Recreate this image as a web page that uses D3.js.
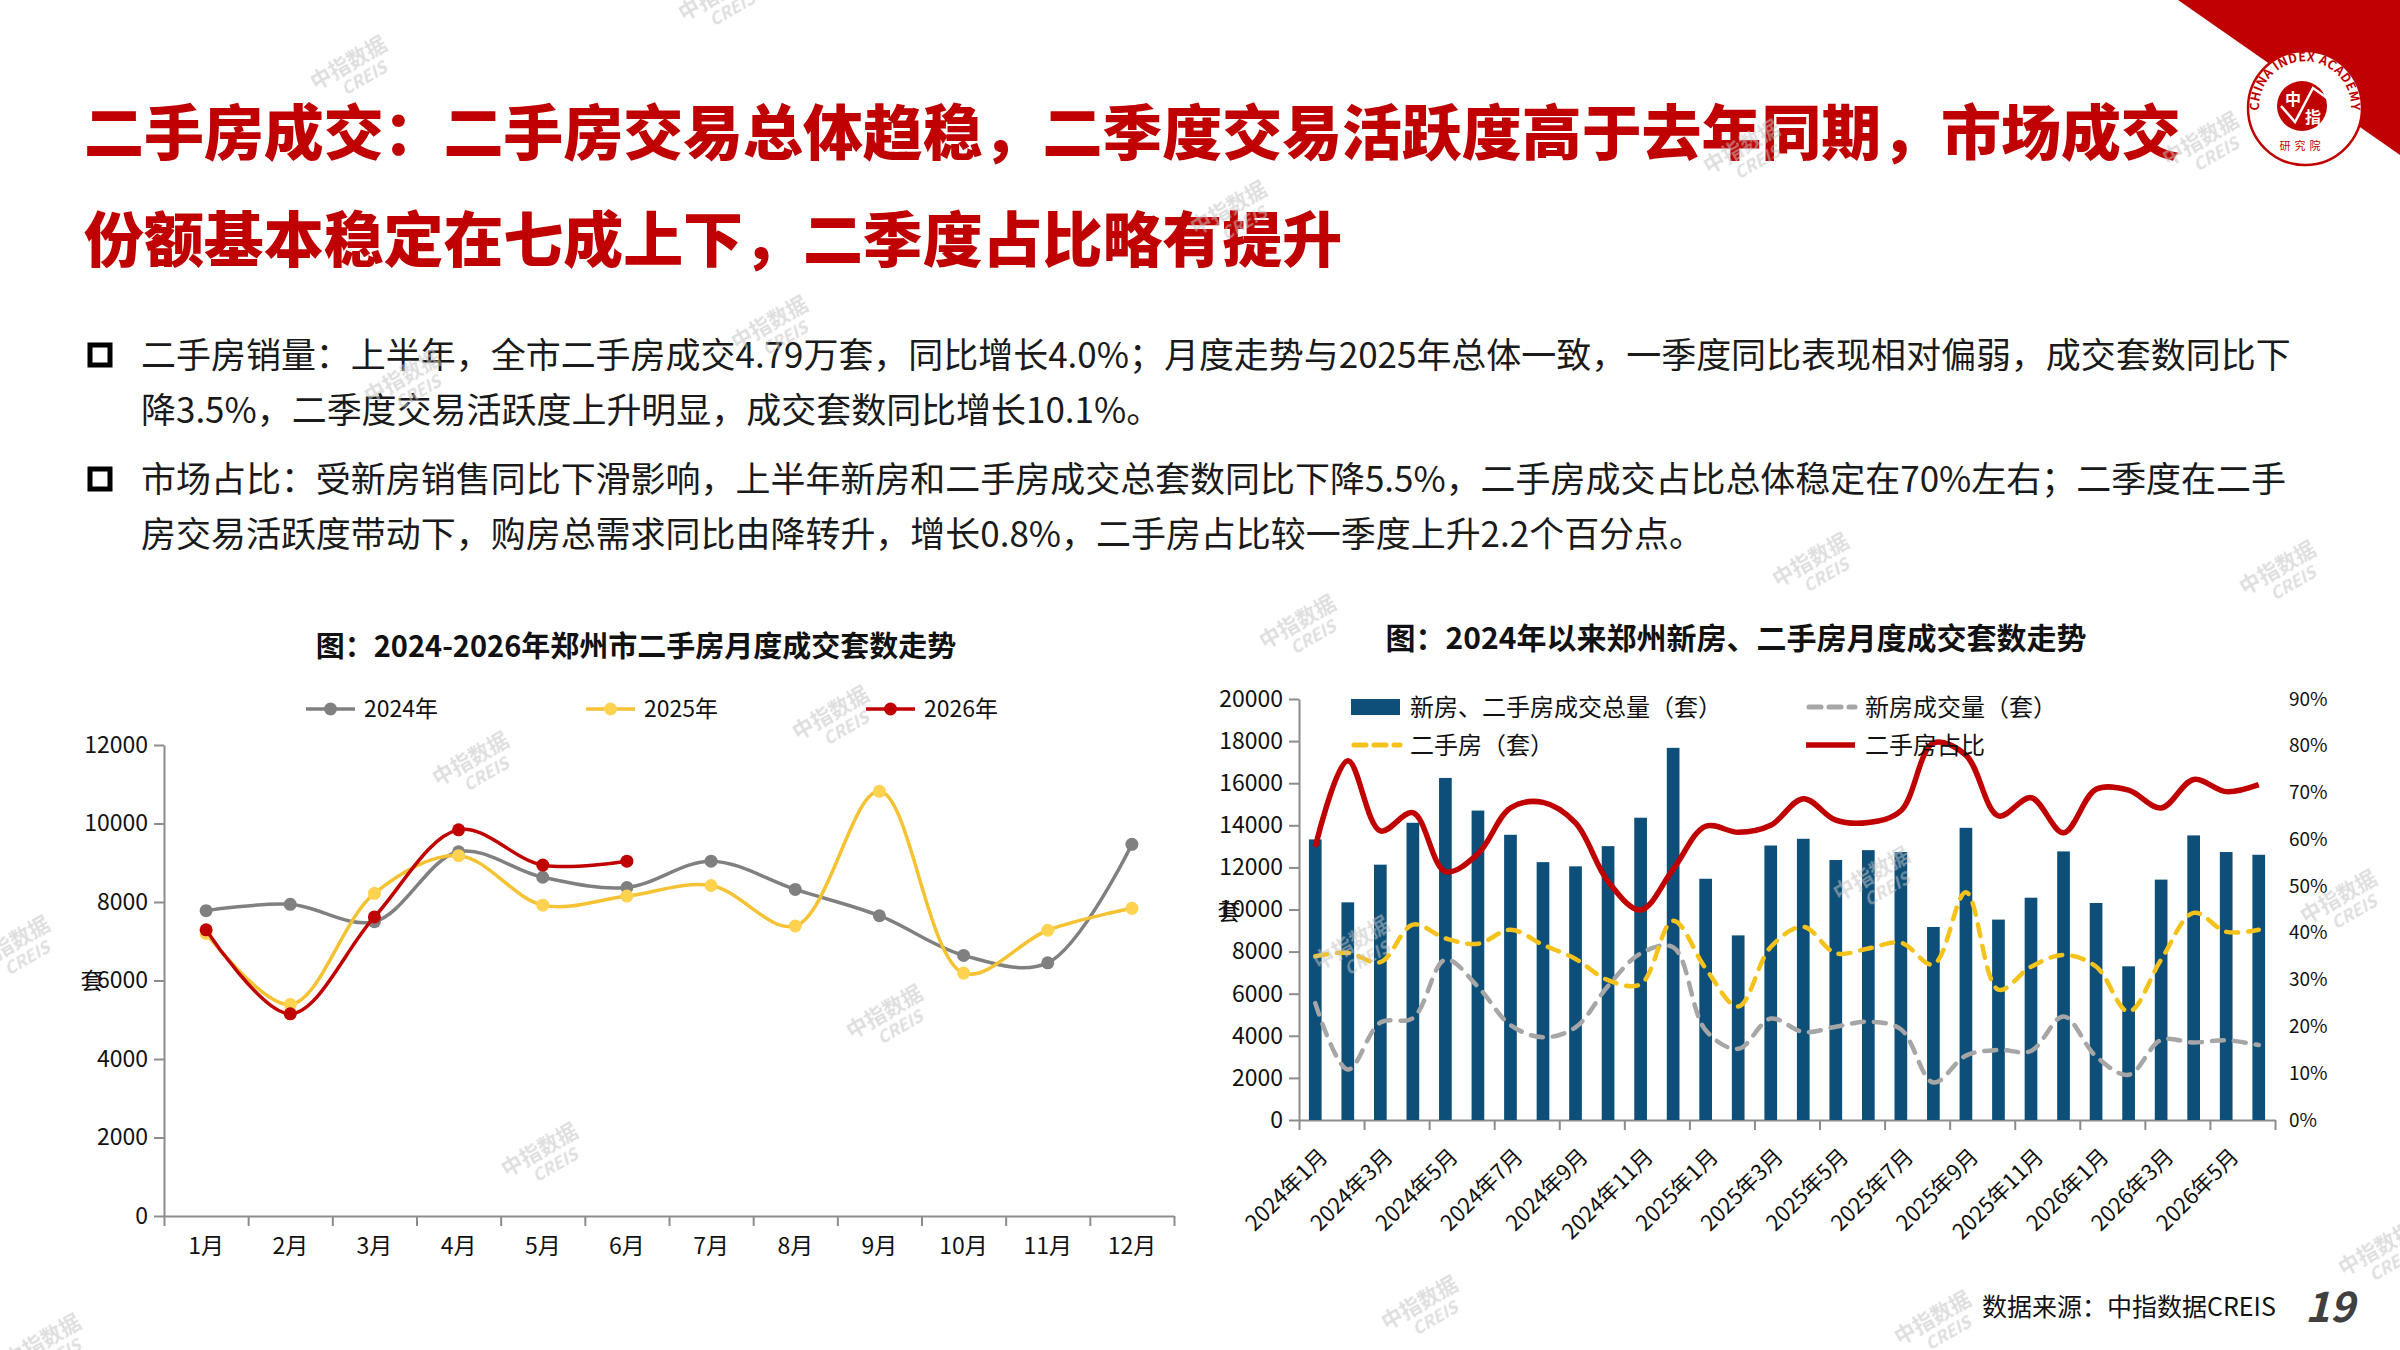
<!DOCTYPE html>
<html>
<head>
<meta charset="utf-8">
<script src="https://cdn.jsdelivr.net/npm/d3@7"></script>
<style>
  html, body { margin: 0; padding: 0; background: #fff; }
  svg { display: block; }
  text { font-family: "Noto Sans CJK SC", "Noto Sans", sans-serif; }
</style>
</head>
<body>
<svg id="slide" width="2400" height="1350"></svg>
<script>
// ---- data ----
const months = ['1月', '2月', '3月', '4月', '5月', '6月', '7月', '8月', '9月', '10月', '11月', '12月'];
const sales2024 = [7780, 7940, 7500, 9280, 8630, 8370, 9040, 8320, 7650, 6640, 6450, 9470];
const sales2025 = [7200, 5390, 8220, 9180, 7920, 8150, 8420, 7390, 10820, 6190, 7280, 7840];
const sales2026 = [7290, 5150, 7620, 9840, 8940, 9040];

const periods = [
  '2024年1月', '2024年2月', '2024年3月', '2024年4月', '2024年5月', '2024年6月',
  '2024年7月', '2024年8月', '2024年9月', '2024年10月', '2024年11月', '2024年12月',
  '2025年1月', '2025年2月', '2025年3月', '2025年4月', '2025年5月', '2025年6月',
  '2025年7月', '2025年8月', '2025年9月', '2025年10月', '2025年11月', '2025年12月',
  '2026年1月', '2026年2月', '2026年3月', '2026年4月', '2026年5月', '2026年6月'
];
const totalDeals = [13330, 10340, 12130, 14120, 16250, 14700, 13550, 12250, 12050, 13010, 14360, 17680,
  11460, 8770, 13040, 13360, 12350, 12820, 12730, 9170, 13880, 9520, 10560, 12760,
  10310, 7300, 11420, 13520, 12730, 12600];
const newDeals = [5550, 2400, 4630, 4840, 7620, 6330, 4510, 3930, 4400, 6370, 7910, 8210,
  4260, 3380, 4820, 4180, 4430, 4670, 4310, 1780, 3060, 3330, 3280, 4920,
  3020, 2150, 3800, 3680, 3790, 3560];
// second-hand monthly series is the same as the left chart's three years
const secondDeals = [...sales2024, ...sales2025, ...sales2026];
const secondShare = [58.4, 76.8, 61.8, 65.7, 53.1, 56.9, 66.7, 67.9, 63.5, 51.0, 44.9, 53.6,
  62.8, 61.5, 63.0, 68.7, 64.1, 63.6, 66.1, 80.6, 78.0, 65.0, 68.9, 61.4,
  70.7, 70.5, 66.7, 72.8, 70.2, 71.7];

const titleLines = [
  '二手房成交：二手房交易总体趋稳，二季度交易活跃度高于去年同期，市场成交',
  '份额基本稳定在七成上下，二季度占比略有提升'
];
const bullets = [
  ['二手房销量：上半年，全市二手房成交4.79万套，同比增长4.0%；月度走势与2025年总体一致，一季度同比表现相对偏弱，成交套数同比下',
   '降3.5%，二季度交易活跃度上升明显，成交套数同比增长10.1%。'],
  ['市场占比：受新房销售同比下滑影响，上半年新房和二手房成交总套数同比下降5.5%，二手房成交占比总体稳定在70%左右；二季度在二手',
   '房交易活跃度带动下，购房总需求同比由降转升，增长0.8%，二手房占比较一季度上升2.2个百分点。']
];

const RED = '#c00000';
const AXIS = '#8c8c8c';
const plain = d3.format('d');

const svg = d3.select('#slide');

// ---- header ----
svg.append('path').attr('d', 'M2178,0 L2400,0 L2400,155 Z').attr('fill', RED);

function fitText(sel, target) {
  const w = sel.node().getComputedTextLength();
  const fs = parseFloat(sel.attr('font-size'));
  return fs * target / w;
}

const title = svg.append('g');
const t0 = title.append('text').attr('x', 84).attr('y', 133).attr('dy', '0.36em')
  .attr('font-size', 62).attr('font-weight', 900).attr('fill', RED).text(titleLines[0]);
const titleFs = fitText(t0, 2097);
t0.attr('font-size', titleFs);
title.append('text').attr('x', 84).attr('y', 240).attr('dy', '0.36em')
  .attr('font-size', titleFs).attr('font-weight', 900).attr('fill', RED).text(titleLines[1]);

// bullets
const bodyG = svg.append('g');
const probe = bodyG.append('text').attr('font-size', 34).text(bullets[0][0]);
const bodyFs = fitText(probe, 2150);
probe.remove();
const bulletY = [355, 479];
bullets.forEach((lines, i) => {
  bodyG.append('rect').attr('x', 90).attr('y', bulletY[i] - 10).attr('width', 20).attr('height', 20)
    .attr('fill', 'none').attr('stroke', '#000').attr('stroke-width', 5);
  lines.forEach((ln, j) => {
    bodyG.append('text').attr('x', 141).attr('y', bulletY[i] + j * 55).attr('dy', '0.36em')
      .attr('font-size', bodyFs).attr('fill', '#1a1a1a').text(ln);
  });
});

// ---- left chart ----
const L = { left: 164, right: 1174, top: 745, bottom: 1216 };
const xL = d3.scaleBand().domain(months).range([L.left, L.right]);
const yL = d3.scaleLinear().domain([0, 12000]).range([L.bottom, L.top]);
const gL = svg.append('g');

gL.append('text').attr('x', 636).attr('y', 647).attr('dy', '0.36em').attr('text-anchor', 'middle')
  .attr('font-size', 29).attr('font-weight', 700).attr('fill', '#111')
  .text('图：2024-2026年郑州市二手房月度成交套数走势');

const yAxisL = gL.append('g').attr('transform', `translate(${L.left},0)`)
  .call(d3.axisLeft(yL).tickValues(d3.range(0, 12001, 2000)).tickFormat(plain)
    .tickSize(10).tickSizeOuter(0).tickPadding(6));
const xTickL = gL.append('g').attr('transform', `translate(0,${L.bottom})`)
  .call(d3.axisBottom(d3.scaleLinear([0, 12], [L.left, L.right])).tickValues(d3.range(0, 13))
    .tickSize(10).tickSizeOuter(0).tickFormat(''));
const xLabL = gL.append('g').attr('transform', `translate(0,${L.bottom})`)
  .call(d3.axisBottom(xL).tickSize(0).tickPadding(22));
xLabL.select('.domain').remove();
[yAxisL, xTickL, xLabL].forEach(a => {
  a.selectAll('path,line').attr('stroke', AXIS).attr('stroke-width', 2);
  a.selectAll('text').attr('font-size', 23).attr('fill', '#111').attr('font-family', '"Noto Sans CJK SC", sans-serif');
});
gL.append('text').attr('x', 92).attr('y', 981).attr('dy', '0.36em').attr('text-anchor', 'middle')
  .attr('font-size', 23).attr('fill', '#111').text('套');

const yearSeries = [
  { name: '2024年', values: sales2024, line: '#808080', dot: '#808080' },
  { name: '2025年', values: sales2025, line: '#f4c232', dot: '#ffd34f' },
  { name: '2026年', values: sales2026, line: RED, dot: RED }
];
const lineL = d3.line()
  .x((d, i) => xL(months[i]) + xL.bandwidth() / 2)
  .y(d => yL(d))
  .curve(d3.curveCatmullRom.alpha(0.5));
yearSeries.forEach(s => {
  gL.append('path').datum(s.values).attr('d', lineL).attr('fill', 'none')
    .attr('stroke', s.line).attr('stroke-width', 3.5);
  gL.selectAll(null).data(s.values).join('circle')
    .attr('cx', (d, i) => xL(months[i]) + xL.bandwidth() / 2)
    .attr('cy', d => yL(d)).attr('r', 6.5).attr('fill', s.dot);
});

// legend
const legL = gL.append('g').attr('transform', 'translate(306,709)');
yearSeries.forEach((s, i) => {
  const it = legL.append('g').attr('transform', `translate(${i * 280},0)`);
  it.append('line').attr('x1', 0).attr('x2', 49).attr('stroke', s.line).attr('stroke-width', 3.5);
  it.append('circle').attr('cx', 24.5).attr('r', 6.5).attr('fill', s.dot);
  it.append('text').attr('x', 58).attr('dy', '0.36em').attr('font-size', 23).attr('fill', '#111').text(s.name);
});

// ---- right chart ----
const R = { left: 1299, right: 2275, top: 699, bottom: 1120 };
const xR = d3.scaleBand().domain(periods).range([R.left, R.right]);
const yR = d3.scaleLinear().domain([0, 20000]).range([R.bottom, R.top]);
const yR2 = d3.scaleLinear().domain([0, 90]).range([R.bottom, R.top]);
const gR = svg.append('g');
const cx = p => xR(p) + xR.bandwidth() / 2;

gR.append('text').attr('x', 1736).attr('y', 638).attr('dy', '0.36em').attr('text-anchor', 'middle')
  .attr('font-size', 30).attr('font-weight', 700).attr('fill', '#111')
  .text('图：2024年以来郑州新房、二手房月度成交套数走势');

const yAxisR = gR.append('g').attr('transform', `translate(${R.left},0)`)
  .call(d3.axisLeft(yR).tickValues(d3.range(0, 20001, 2000)).tickFormat(plain)
    .tickSize(10).tickSizeOuter(0).tickPadding(6));
const y2AxisR = gR.append('g').attr('transform', `translate(${R.right + 14},0)`)
  .call(d3.axisRight(yR2).tickValues(d3.range(0, 91, 10)).tickSize(0).tickPadding(0).tickFormat(d => d + '%'));
y2AxisR.select('.domain').remove();
const xTickR = gR.append('g').attr('transform', `translate(0,${R.bottom})`)
  .call(d3.axisBottom(d3.scaleLinear([0, periods.length], [R.left, R.right]))
    .tickValues(d3.range(0, periods.length + 1, 2)).tickSize(10).tickSizeOuter(0).tickFormat(''));
[yAxisR, xTickR].forEach(a => {
  a.selectAll('path,line').attr('stroke', AXIS).attr('stroke-width', 2);
  a.selectAll('text').attr('font-size', 23).attr('fill', '#111').attr('font-family', '"Noto Sans CJK SC", sans-serif');
});
y2AxisR.selectAll('text').attr('font-size', 19).attr('fill', '#111').attr('font-family', '"Noto Sans CJK SC", sans-serif');

gR.selectAll(null).data(periods.filter((p, i) => i % 2 === 0)).join('text')
  .attr('transform', p => `translate(${cx(p) + 3},${R.bottom + 27}) rotate(-45)`)
  .attr('text-anchor', 'end').attr('dy', '0.7em')
  .attr('font-size', 22).attr('fill', '#111').text(p => p);

gR.append('text').attr('x', 1229).attr('y', 912).attr('dy', '0.36em').attr('text-anchor', 'middle')
  .attr('font-size', 23).attr('fill', '#111').text('套');

const barW = xR.bandwidth() * 0.39;
gR.selectAll(null).data(totalDeals).join('rect')
  .attr('x', (d, i) => cx(periods[i]) - barW / 2)
  .attr('y', d => yR(d))
  .attr('width', barW)
  .attr('height', d => yR(0) - yR(d))
  .attr('fill', '#0d4f78');

const curve = d3.curveCatmullRom.alpha(0.5);
const lineCount = d3.line().x((d, i) => cx(periods[i])).y(d => yR(d)).curve(curve);
const lineShare = d3.line().x((d, i) => cx(periods[i])).y(d => yR2(d)).curve(curve);

gR.append('path').datum(newDeals).attr('d', lineCount).attr('fill', 'none')
  .attr('stroke', '#a6a6a6').attr('stroke-width', 4.5).attr('stroke-dasharray', '12,10').attr('stroke-linecap', 'round');
gR.append('path').datum(secondDeals).attr('d', lineCount).attr('fill', 'none')
  .attr('stroke', '#f5c21b').attr('stroke-width', 4.5).attr('stroke-dasharray', '12,10').attr('stroke-linecap', 'round');
gR.append('path').datum(secondShare).attr('d', lineShare).attr('fill', 'none')
  .attr('stroke', RED).attr('stroke-width', 5.5);

// legend
const legR = gR.append('g');
const legItems = [
  { label: '新房、二手房成交总量（套）', x: 1351, y: 707, kind: 'bar', color: '#0d4f78' },
  { label: '新房成交量（套）', x: 1806, y: 707, kind: 'dash', color: '#a6a6a6' },
  { label: '二手房（套）', x: 1351, y: 745, kind: 'dash', color: '#f5c21b' },
  { label: '二手房占比', x: 1806, y: 745, kind: 'line', color: RED }
];
legItems.forEach(it => {
  const g = legR.append('g').attr('transform', `translate(${it.x},${it.y})`);
  if (it.kind === 'bar') {
    g.append('rect').attr('x', 0).attr('y', -8).attr('width', 49).attr('height', 16).attr('fill', it.color);
  } else if (it.kind === 'dash') {
    g.append('line').attr('x1', 3).attr('x2', 49).attr('stroke', it.color).attr('stroke-width', 5)
      .attr('stroke-dasharray', '12,8').attr('stroke-linecap', 'round');
  } else {
    g.append('line').attr('x1', 0).attr('x2', 49).attr('stroke', it.color).attr('stroke-width', 5.5);
  }
  g.append('text').attr('x', 59).attr('dy', '0.36em').attr('font-size', 24).attr('fill', '#111').text(it.label);
});

// ---- footer ----
svg.append('text').attr('x', 1982).attr('y', 1307).attr('dy', '0.36em')
  .attr('font-size', 25).attr('fill', '#111').text('数据来源：中指数据CREIS');
svg.append('text').attr('x', 2305).attr('y', 1307).attr('dy', '0.36em')
  .attr('font-size', 42).attr('font-weight', 700).attr('font-style', 'italic')
  .attr('font-family', '"Liberation Sans", Arial, sans-serif').attr('fill', '#404040').text('19');

// ---- logo ----
const logo = svg.append('g').attr('transform', 'translate(2305,108)');
logo.append('circle').attr('r', 57).attr('fill', '#fff').attr('stroke', RED).attr('stroke-width', 2.5);
logo.append('path').attr('id', 'logoArc').attr('d', 'M-40,22 A46,46 0 1,1 40,22').attr('fill', 'none');
logo.append('text').attr('font-size', 12.5).attr('font-weight', 700).attr('fill', RED)
  .attr('font-family', '"Liberation Serif", serif').attr('letter-spacing', 0.5)
  .append('textPath').attr('href', '#logoArc').attr('startOffset', '50%').attr('text-anchor', 'middle')
  .text('CHINA INDEX ACADEMY');
logo.append('circle').attr('cx', -3).attr('cy', -2).attr('r', 25).attr('fill', RED);
logo.append('path').attr('d', 'M-24,-2 L-10,14 L8,-20 L22,-10').attr('fill', 'none').attr('stroke', '#fff').attr('stroke-width', 2.5);
logo.append('text').attr('x', -12).attr('y', -9).attr('dy', '0.36em').attr('text-anchor', 'middle')
  .attr('font-size', 16).attr('font-weight', 700).attr('fill', '#fff').text('中');
logo.append('text').attr('x', 8).attr('y', 9).attr('dy', '0.36em').attr('text-anchor', 'middle')
  .attr('font-size', 16).attr('font-weight', 700).attr('fill', '#fff').text('指');
logo.append('text').attr('x', -3).attr('y', 38).attr('dy', '0.36em').attr('text-anchor', 'middle')
  .attr('font-size', 11).attr('letter-spacing', 4).attr('fill', RED).text('研究院');

// ---- watermarks ----
const marks = [[352, 69], [720, 0], [1232, 214], [1745, 153], [2204, 145], [773, 329], [406, 383],
  [1301, 628], [1814, 566], [2281, 574], [834, 719], [474, 765], [1355, 949], [1875, 880],
  [2342, 903], [888, 1018], [543, 1156], [1423, 1309], [1936, 1324], [2380, 1255], [15, 949], [46, 1347]];
const wm = svg.append('g').attr('opacity', 0.55);
marks.forEach(([mx, my]) => {
  const g = wm.append('g').attr('transform', `translate(${mx},${my}) rotate(-30)`);
  g.append('text').attr('text-anchor', 'middle').attr('font-size', 21).attr('font-weight', 700)
    .attr('fill', '#c4c4c4').text('中指数据');
  g.append('text').attr('x', 6).attr('y', 20).attr('text-anchor', 'middle').attr('font-size', 17)
    .attr('font-style', 'italic').attr('font-weight', 700).attr('font-family', '"Liberation Sans", Arial, sans-serif')
    .attr('fill', '#c4c4c4').text('CREIS');
});
</script>
</body>
</html>
